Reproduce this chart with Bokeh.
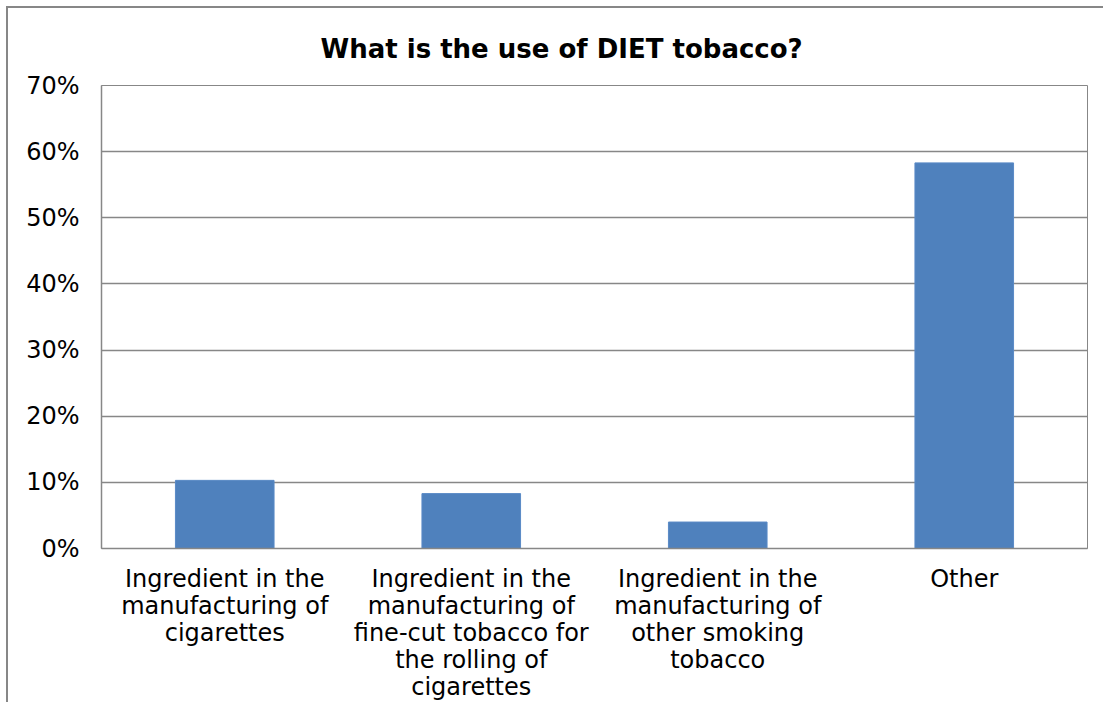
from bokeh.plotting import figure
from bokeh.models import NumeralTickFormatter, FixedTicker, Title
from bokeh.embed import file_html
from bokeh.resources import INLINE

categories = [
    "Ingredient in the\nmanufacturing of\ncigarettes",
    "Ingredient in the\nmanufacturing of\nfine-cut tobacco for\nthe rolling of\ncigarettes",
    "Ingredient in the\nmanufacturing of\nother smoking\ntobacco",
    "Other",
]
values = [0.103, 0.083, 0.040, 0.583]
y_ticks = [0, 0.1, 0.2, 0.3, 0.4, 0.5, 0.6, 0.7]
title_text = "What is the use of DIET tobacco?"

FONT = "DejaVu Sans"
GRAY = "#878787"

p = figure(
    x_range=categories, y_range=(0, 0.7),
    width=1097, height=696,
    output_backend="svg", toolbar_location=None,
    min_border_left=93, min_border_right=18,
    min_border_top=77, min_border_bottom=147,
)
p.styles = {"margin-left": "6px", "margin-top": "6px",
            "border-left": "2px solid #878787", "border-top": "2px solid #878787"}
p.title = Title(text=title_text, align="left", offset=219, vertical_align="top",
                text_font=FONT, text_font_size="26px", text_font_style="bold",
                text_color="black", standoff=40)

p.vbar(x=categories, top=values, width=0.4, fill_color="#4F81BD", line_color="#5A8AC6")

p.outline_line_color = GRAY
p.xgrid.grid_line_color = None
p.ygrid.grid_line_color = GRAY
p.ygrid.grid_line_width = 1.5

p.yaxis.ticker = FixedTicker(ticks=y_ticks)
p.yaxis.formatter = NumeralTickFormatter(format="0%")
p.yaxis.major_label_text_font = FONT
p.yaxis.major_label_text_font_size = "24px"
p.yaxis.major_label_text_color = "black"
p.yaxis.major_label_standoff = 16
p.yaxis.major_tick_line_color = None
p.yaxis.minor_tick_line_color = None
p.yaxis.axis_line_color = GRAY
p.yaxis.axis_line_width = 1.5

p.xaxis.major_label_text_font = FONT
p.xaxis.major_label_text_font_size = "24px"
p.xaxis.major_label_text_color = "black"
p.xaxis.major_label_text_line_height = 0.97
p.xaxis.major_label_standoff = 10
p.xaxis.major_tick_line_color = None
p.xaxis.axis_line_color = GRAY
p.xaxis.axis_line_width = 1.5

open("out.html", "w").write(file_html(p, INLINE))
